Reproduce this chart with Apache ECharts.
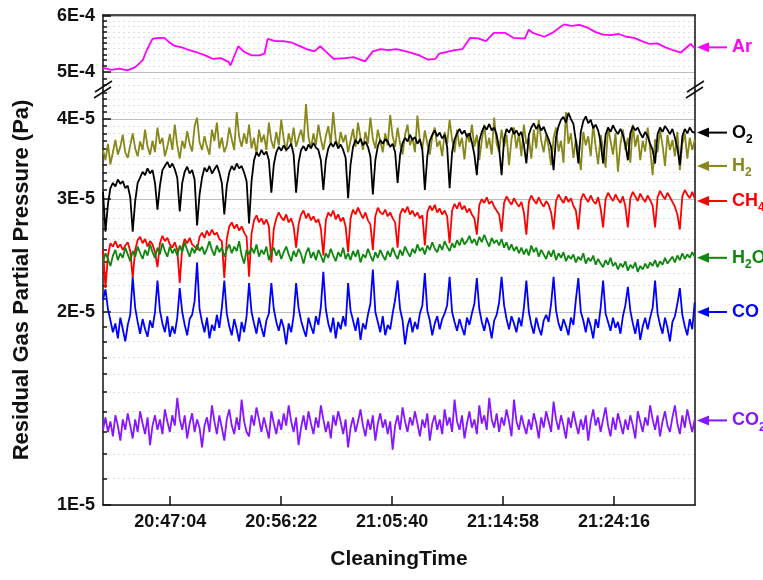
<!DOCTYPE html>
<html>
<head>
<meta charset="utf-8">
<title>Residual gas partial pressure</title>
<script src="https://cdn.jsdelivr.net/npm/echarts@6/dist/echarts.min.js"></script>
<style>
  html, body { margin: 0; padding: 0; background: #fff; }
  #chart { width: 763px; height: 580px; }
</style>
</head>
<body>
<div id="chart"></div>
<script>
// scan window, the RGA samples every sampleStep seconds
var timeStart = '20:41:26';
var timeEnd = '21:31:03';
var sampleStep = 12.45;
var timeTicks = ['20:47:04', '20:56:22', '21:05:40', '21:14:58', '21:24:16'];

// partial pressures, unit 1E-5 Pa, one value per sample
var o2 = [
  3.08, 2.67, 2.95, 3.12, 3.18, 3.14, 3.22, 3.17, 3.20, 3.12,
  3.15, 3.02, 2.67, 2.98, 3.18, 3.24, 3.31, 3.27, 3.35, 3.29,
  3.33, 3.18, 2.89, 3.15, 3.33, 3.38, 3.43, 3.36, 3.41, 3.34,
  3.24, 2.87, 3.18, 3.31, 3.37, 3.29, 3.33, 3.22, 2.73, 3.05,
  3.24, 3.36, 3.31, 3.38, 3.29, 3.34, 3.39, 3.30, 3.18, 2.84,
  3.15, 3.30, 3.38, 3.33, 3.41, 3.35, 3.38, 3.30, 3.20, 2.75,
  3.20, 3.45, 3.55, 3.50, 3.58, 3.52, 3.56, 3.45, 3.07, 3.40,
  3.55, 3.62, 3.57, 3.64, 3.58, 3.61, 3.66, 3.52, 3.07, 3.42,
  3.58, 3.63, 3.57, 3.65, 3.60, 3.67, 3.61, 3.58, 3.45, 3.10,
  3.45, 3.60, 3.67, 3.62, 3.69, 3.60, 3.65, 3.58, 3.48, 3.01,
  3.40, 3.62, 3.71, 3.66, 3.73, 3.64, 3.69, 3.62, 3.50, 3.05,
  3.45, 3.63, 3.71, 3.66, 3.72, 3.69, 3.62, 3.66, 3.55, 3.18,
  3.52, 3.67, 3.74, 3.69, 3.78, 3.71, 3.75, 3.66, 3.72, 3.58,
  3.10, 3.50, 3.70, 3.78, 3.84, 3.76, 3.81, 3.73, 3.78, 3.62,
  3.12, 3.55, 3.72, 3.80, 3.86, 3.79, 3.84, 3.75, 3.80, 3.68,
  3.52, 3.27, 3.70, 3.82, 3.90, 3.85, 3.93, 3.84, 3.88, 3.78,
  3.60, 3.27, 3.72, 3.86, 3.81, 3.88, 3.79, 3.84, 3.77, 3.82,
  3.65, 3.41, 3.78, 3.88, 3.94, 3.86, 3.92, 3.84, 3.89, 3.80,
  3.72, 3.62, 3.33, 3.75, 3.90, 3.99, 4.03, 3.95, 4.09, 4.00,
  3.93, 3.70, 3.41, 3.82, 3.97, 4.04, 3.94, 3.99, 3.87, 3.92,
  3.84, 3.68, 3.41, 3.78, 3.88, 3.82, 3.91, 3.84, 3.79, 3.86,
  3.78, 3.65, 3.45, 3.80, 3.90, 3.84, 3.88, 3.80, 3.74, 3.82,
  3.76, 3.66, 3.58, 3.41, 3.79, 3.88, 3.82, 3.90, 3.85, 3.79,
  3.86, 3.74, 3.60, 3.39, 3.76, 3.86, 3.80, 3.88, 3.82, 3.81
];
var h2 = [
  3.58, 3.45, 3.66, 3.40, 3.55, 3.71, 3.52, 3.62, 3.78, 3.55,
  3.48, 3.64, 3.80, 3.60, 3.50, 3.69, 3.58, 3.85, 3.62, 3.52,
  3.70, 3.55, 3.88, 3.66, 3.74, 3.50, 3.62, 3.79, 3.58, 3.92,
  3.64, 3.47, 3.70, 3.60, 3.83, 3.66, 3.56, 3.90, 4.02, 3.68,
  3.58, 3.76, 3.62, 3.52, 3.85, 3.70, 3.95, 3.60, 3.74, 3.55,
  3.64, 3.88, 3.72, 3.58, 4.10, 3.75, 3.62, 3.80, 3.66, 3.92,
  3.60, 3.74, 3.52, 3.85, 3.68, 3.78, 3.58, 3.95, 3.70, 3.60,
  3.82, 3.64, 3.99, 3.72, 3.56, 3.80, 3.66, 3.88, 3.62, 3.74,
  3.85, 3.68, 4.22, 3.75, 3.60, 3.80, 3.64, 3.92, 3.72, 3.58,
  3.76, 3.90, 3.66, 4.10, 3.72, 3.60, 3.82, 3.68, 3.78, 3.55,
  3.70, 3.86, 3.62, 3.95, 3.74, 3.58, 3.82, 3.66, 4.02, 3.72,
  3.60, 3.85, 3.70, 3.55, 3.80, 3.64, 4.06, 3.76, 3.62, 3.88,
  3.66, 3.52, 3.78, 3.92, 3.64, 3.74, 3.55, 4.05, 3.70, 3.60,
  3.84, 3.66, 3.52, 3.76, 3.88, 3.62, 3.70, 3.50, 3.82, 3.66,
  3.99, 3.72, 3.55, 3.85, 3.62, 3.74, 3.46, 3.80, 3.68, 3.92,
  3.62, 3.78, 3.45, 3.70, 3.92, 3.60, 3.74, 3.52, 4.02, 3.66,
  3.55, 3.85, 3.62, 3.78, 3.39, 3.72, 3.88, 3.60, 3.80, 3.50,
  3.92, 3.66, 3.74, 3.47, 3.85, 3.60, 3.99, 3.70, 3.55, 3.78,
  3.62, 3.39, 3.74, 3.88, 3.56, 3.70, 3.42, 4.10, 3.66, 3.80,
  3.48, 3.72, 3.58, 3.33, 3.82, 3.64, 3.76, 3.50, 3.92, 3.62,
  3.40, 3.78, 3.60, 3.36, 3.88, 3.70, 3.52, 3.80, 3.31, 3.66,
  3.85, 3.58, 3.74, 3.42, 3.92, 3.62, 3.78, 3.45, 3.70, 3.56,
  3.88, 3.60, 3.27, 3.72, 3.55, 3.85, 3.64, 3.38, 3.78, 3.58,
  3.71, 3.50, 3.82, 3.33, 3.66, 3.80, 3.47, 3.74, 3.58, 3.71
];
var ch4 = [
  2.50, 2.18, 2.45, 2.56, 2.53, 2.58, 2.52, 2.55, 2.50, 2.54,
  2.57, 2.49, 2.26, 2.50, 2.59, 2.62, 2.56, 2.60, 2.53, 2.58,
  2.55, 2.48, 2.35, 2.56, 2.63, 2.58, 2.61, 2.55, 2.52, 2.57,
  2.50, 2.22, 2.52, 2.60, 2.56, 2.61, 2.55, 2.53, 2.50, 2.62,
  2.66, 2.61, 2.68, 2.63, 2.69, 2.64, 2.66, 2.60, 2.58, 2.26,
  2.60, 2.72, 2.76, 2.70, 2.74, 2.68, 2.72, 2.66, 2.62, 2.27,
  2.65, 2.78, 2.83, 2.76, 2.80, 2.74, 2.79, 2.72, 2.39, 2.70,
  2.80, 2.86, 2.81, 2.78, 2.84, 2.76, 2.80, 2.72, 2.52, 2.74,
  2.84, 2.88, 2.80, 2.85, 2.78, 2.82, 2.76, 2.79, 2.70, 2.45,
  2.78, 2.86, 2.82, 2.88, 2.79, 2.84, 2.77, 2.81, 2.72, 2.48,
  2.80, 2.89, 2.84, 2.91, 2.85, 2.80, 2.86, 2.78, 2.74, 2.50,
  2.82, 2.91, 2.86, 2.84, 2.89, 2.82, 2.86, 2.80, 2.76, 2.52,
  2.84, 2.90, 2.86, 2.92, 2.84, 2.88, 2.82, 2.86, 2.80, 2.83,
  2.54, 2.86, 2.93, 2.88, 2.94, 2.86, 2.90, 2.84, 2.88, 2.82,
  2.56, 2.88, 2.95, 2.90, 2.97, 2.89, 2.93, 2.86, 2.90, 2.84,
  2.80, 2.64, 2.94, 3.00, 2.96, 3.02, 2.95, 2.98, 2.92, 2.88,
  2.84, 2.67, 2.96, 3.03, 2.98, 2.94, 3.01, 2.96, 2.92, 2.97,
  2.86, 2.64, 2.97, 3.04, 2.99, 2.95, 3.02, 2.96, 2.92, 2.98,
  2.94, 2.86, 2.69, 2.98, 3.05, 3.00, 2.96, 3.03, 2.97, 3.01,
  2.93, 2.88, 2.69, 2.99, 3.06, 3.01, 2.97, 3.04, 2.98, 2.95,
  3.02, 2.90, 2.71, 3.00, 3.07, 3.02, 2.98, 3.05, 3.00, 2.96,
  3.03, 2.92, 2.71, 3.01, 3.08, 3.03, 2.98, 3.06, 3.01, 2.97,
  3.04, 2.99, 2.93, 2.71, 3.02, 3.09, 3.04, 3.00, 3.07, 3.02,
  2.97, 2.92, 2.84, 2.69, 3.03, 3.10, 3.05, 3.01, 3.08, 3.01
];
var h2o = [
  2.39, 2.47, 2.42, 2.36, 2.45, 2.50, 2.41, 2.47, 2.43, 2.52,
  2.46, 2.40, 2.49, 2.44, 2.53, 2.47, 2.42, 2.50, 2.45, 2.55,
  2.48, 2.43, 2.52, 2.46, 2.56, 2.49, 2.44, 2.53, 2.47, 2.51,
  2.45, 2.54, 2.48, 2.57, 2.50, 2.44, 2.52, 2.47, 2.55, 2.49,
  2.53, 2.46, 2.51, 2.58, 2.50, 2.45, 2.54, 2.48, 2.52, 2.44,
  2.50, 2.55, 2.47, 2.53, 2.49, 2.58, 2.45, 2.38, 2.50, 2.46,
  2.52, 2.47, 2.55, 2.44, 2.50, 2.46, 2.53, 2.41, 2.48, 2.52,
  2.45, 2.50, 2.42, 2.48, 2.53, 2.46, 2.40, 2.49, 2.44, 2.51,
  2.46, 2.38, 2.47, 2.52, 2.43, 2.48, 2.41, 2.50, 2.45, 2.39,
  2.47, 2.43, 2.51, 2.45, 2.40, 2.48, 2.44, 2.52, 2.42, 2.47,
  2.41, 2.49, 2.44, 2.50, 2.39, 2.46, 2.43, 2.51, 2.45, 2.40,
  2.48, 2.43, 2.50, 2.45, 2.41, 2.49, 2.44, 2.52, 2.46, 2.42,
  2.50, 2.45, 2.53, 2.48, 2.44, 2.51, 2.47, 2.55, 2.49, 2.52,
  2.46, 2.54, 2.50, 2.57, 2.51, 2.48, 2.55, 2.50, 2.58, 2.53,
  2.49, 2.56, 2.52, 2.59, 2.54, 2.61, 2.55, 2.58, 2.63, 2.56,
  2.60, 2.54, 2.62, 2.57, 2.64, 2.58, 2.53, 2.61, 2.56, 2.59,
  2.54, 2.60, 2.52, 2.57, 2.50, 2.55, 2.49, 2.53, 2.47, 2.52,
  2.46, 2.51, 2.45, 2.54, 2.48, 2.52, 2.44, 2.50, 2.46, 2.42,
  2.49, 2.44, 2.50, 2.41, 2.47, 2.43, 2.48, 2.40, 2.45, 2.42,
  2.46, 2.39, 2.44, 2.41, 2.47, 2.38, 2.43, 2.40, 2.45, 2.37,
  2.42, 2.38, 2.35, 2.41, 2.37, 2.43, 2.36, 2.39, 2.33, 2.38,
  2.35, 2.40, 2.32, 2.37, 2.34, 2.39, 2.31, 2.36, 2.33, 2.38,
  2.34, 2.39, 2.36, 2.41, 2.35, 2.40, 2.37, 2.43, 2.38, 2.41,
  2.44, 2.39, 2.45, 2.41, 2.47, 2.42, 2.46, 2.43, 2.48, 2.44
];
var co = [
  2.09, 2.17, 2.02, 1.94, 1.86, 1.92, 1.82, 1.96, 1.88, 1.80,
  1.91, 1.98, 2.27, 2.03, 1.93, 1.85, 1.95, 1.88, 1.83, 1.94,
  1.89, 2.00, 2.24, 2.01, 1.92, 1.86, 1.97, 1.83, 1.90, 1.85,
  1.96, 2.18, 2.00, 1.91, 1.84, 1.95, 1.98, 2.08, 2.39, 2.02,
  1.93, 1.86, 1.96, 1.82, 1.91, 1.87, 1.98, 1.89, 2.03, 2.24,
  1.99, 1.90, 1.84, 1.95, 1.88, 1.80, 1.93, 1.86, 1.97, 2.22,
  2.00, 1.92, 1.85, 1.96, 1.89, 1.83, 1.94, 1.99, 2.22, 2.02,
  1.93, 1.87, 1.95, 1.89, 1.78, 1.92, 1.86, 1.97, 2.22, 2.03,
  1.94, 1.88, 1.83, 1.96, 1.90, 1.85, 1.97, 1.91, 2.04, 2.31,
  2.02, 1.92, 1.86, 1.96, 1.82, 1.93, 1.88, 1.97, 1.90, 2.22,
  2.01, 1.94, 1.87, 1.96, 1.81, 1.92, 1.88, 1.98, 2.06, 2.33,
  2.00, 1.93, 1.86, 1.97, 1.84, 1.91, 1.88, 1.99, 2.09, 2.24,
  2.02, 1.94, 1.78, 1.90, 1.96, 1.86, 1.93, 1.88, 1.99, 2.05,
  2.30, 2.01, 1.94, 1.84, 1.92, 1.97, 1.88, 1.95, 1.99, 2.05,
  2.27, 2.00, 1.93, 1.87, 1.95, 1.89, 1.84, 1.96, 1.91, 1.99,
  2.06, 2.26, 2.02, 1.93, 1.87, 1.96, 1.91, 1.82, 1.94, 1.98,
  2.07, 2.27, 2.05, 1.95, 1.88, 1.97, 1.92, 1.86, 1.96, 1.90,
  2.03, 2.24, 2.00, 1.91, 1.85, 1.96, 1.89, 1.84, 1.94, 1.98,
  1.93, 2.06, 2.27, 2.01, 1.92, 1.87, 1.95, 1.90, 1.84, 1.96,
  1.91, 2.09, 2.26, 2.00, 1.94, 1.86, 1.96, 1.90, 1.82, 1.95,
  1.89, 2.03, 2.24, 1.99, 1.93, 1.87, 1.96, 1.89, 1.93, 1.85,
  1.97, 2.05, 2.19, 2.01, 1.92, 1.85, 1.95, 1.81, 1.90, 1.96,
  1.88, 1.96, 2.03, 2.24, 1.99, 1.91, 1.85, 1.96, 1.89, 1.80,
  1.93, 1.97, 2.06, 2.18, 1.98, 1.90, 1.84, 1.95, 1.88, 2.07
];
var co2 = [
  1.31, 1.37, 1.30, 1.35, 1.28, 1.38, 1.33, 1.26, 1.36, 1.31,
  1.39, 1.33, 1.27, 1.36, 1.30, 1.40, 1.34, 1.29, 1.37, 1.24,
  1.33, 1.38, 1.31, 1.36, 1.29, 1.41, 1.35, 1.30, 1.38, 1.33,
  1.47, 1.36, 1.31, 1.38, 1.27, 1.34, 1.39, 1.30, 1.36, 1.32,
  1.23, 1.33, 1.37, 1.30, 1.43, 1.35, 1.29, 1.38, 1.32, 1.26,
  1.36, 1.41, 1.33, 1.29, 1.37, 1.31, 1.46, 1.35, 1.30, 1.28,
  1.38, 1.33, 1.42, 1.36, 1.30, 1.37, 1.32, 1.27, 1.40, 1.34,
  1.29, 1.36, 1.31, 1.39, 1.33, 1.43, 1.35, 1.30, 1.37, 1.24,
  1.32, 1.38, 1.31, 1.40, 1.34, 1.29, 1.37, 1.32, 1.43, 1.36,
  1.30, 1.35, 1.27, 1.38, 1.33, 1.40, 1.35, 1.29, 1.36, 1.23,
  1.32, 1.37, 1.30, 1.35, 1.41, 1.33, 1.28, 1.36, 1.31, 1.38,
  1.26, 1.34, 1.39, 1.32, 1.36, 1.29, 1.35, 1.22, 1.33, 1.38,
  1.31, 1.42, 1.35, 1.30, 1.37, 1.33, 1.40, 1.34, 1.28, 1.36,
  1.32, 1.39, 1.26, 1.34, 1.38, 1.31, 1.36, 1.29, 1.41, 1.33,
  1.37, 1.30, 1.46, 1.35, 1.31, 1.38, 1.27, 1.34, 1.40, 1.32,
  1.36, 1.29, 1.43, 1.34, 1.38, 1.31, 1.47, 1.36, 1.32, 1.39,
  1.30, 1.37, 1.33, 1.41, 1.35, 1.28, 1.46, 1.35, 1.31, 1.38,
  1.33, 1.29, 1.36, 1.31, 1.39, 1.34, 1.27, 1.37, 1.32, 1.40,
  1.35, 1.30, 1.45, 1.36, 1.31, 1.38, 1.33, 1.27, 1.37, 1.32,
  1.40, 1.34, 1.29, 1.36, 1.31, 1.38, 1.26, 1.35, 1.41, 1.33,
  1.37, 1.30, 1.36, 1.42, 1.33, 1.28, 1.37, 1.31, 1.39, 1.34,
  1.29, 1.36, 1.31, 1.38, 1.33, 1.27, 1.40, 1.35, 1.30, 1.37,
  1.33, 1.43, 1.36, 1.31, 1.38, 1.28, 1.35, 1.40, 1.33, 1.30,
  1.37, 1.43, 1.34, 1.29, 1.38, 1.32, 1.41, 1.35, 1.30, 1.36
];

// Ar, unit 1E-4 Pa, read at its own points (seconds after timeStart)
var arOffset = [
  0, 43, 82, 122, 161, 200, 220, 249, 278, 308,
  327, 357, 396, 435, 475, 514, 553, 592, 631, 641,
  680, 710, 749, 788, 812, 828, 867, 906, 945, 984,
  1024, 1063, 1092, 1122, 1161, 1220, 1259, 1318, 1357, 1396,
  1435, 1475, 1534, 1592, 1632, 1671, 1690, 1730, 1769, 1808,
  1847, 1886, 1926, 1965, 2024, 2063, 2102, 2122, 2141, 2161,
  2220, 2259, 2318, 2357, 2396, 2436, 2475, 2514, 2553, 2592,
  2632, 2671, 2710, 2749, 2788, 2828, 2867, 2906, 2955, 2977
];
var arValue = [
  5.07, 5.04, 5.06, 5.03, 5.08, 5.20, 5.37, 5.57, 5.59, 5.59,
  5.53, 5.45, 5.42, 5.37, 5.33, 5.28, 5.22, 5.235, 5.17, 5.11,
  5.44, 5.34, 5.28, 5.28, 5.31, 5.57, 5.53, 5.53, 5.51, 5.45,
  5.39, 5.35, 5.44, 5.34, 5.22, 5.235, 5.25, 5.18, 5.35, 5.39,
  5.37, 5.39, 5.34, 5.28, 5.21, 5.22, 5.31, 5.34, 5.37, 5.39,
  5.59, 5.58, 5.53, 5.68, 5.68, 5.59, 5.58, 5.58, 5.74, 5.68,
  5.61, 5.68, 5.84, 5.81, 5.83, 5.78, 5.70, 5.65, 5.64, 5.66,
  5.61, 5.59, 5.53, 5.48, 5.49, 5.42, 5.37, 5.33, 5.48, 5.40
];

// axis extents and ticks (lower panel 1E-5 Pa, upper panel 1E-4 Pa)
var lowRange = [1, 4.44];
var lowMajor = [1, 2, 3, 4];
var lowMinor = [1.1, 1.2, 1.3, 1.4, 1.5, 1.6, 1.7, 1.8, 1.9,
                2.1, 2.2, 2.3, 2.4, 2.5, 2.6, 2.7, 2.8, 2.9,
                3.1, 3.2, 3.3, 3.4, 3.5, 3.6, 3.7, 3.8, 3.9,
                4.1, 4.2, 4.3, 4.4];
var arRange = [4.72, 6.02];
var arMajor = [5, 6];
var arMinor = [4.8, 4.9, 5.1, 5.2, 5.3, 5.4, 5.5, 5.6, 5.7, 5.8, 5.9];

// right hand tags: text and the level the arrow points at
var tagText = ['{m|Ar}', '{m|O}{s|2}', '{m|H}{s|2}', '{m|CH}{s|4}', '{m|H}{s|2}{m|O}', '{m|CO}', '{m|CO}{s|2}'];
var tagLevel = [5.42, 3.81, 3.38, 2.98, 2.43, 2.00, 1.355];

var colors = {
  ar: '#ff00ff', o2: '#000000', h2: '#87871a', ch4: '#ff0000',
  h2o: '#0f870f', co: '#0000ff', co2: '#8516ff'
};
var tagColor = [colors.ar, colors.o2, colors.h2, colors.ch4, colors.h2o, colors.co, colors.co2];

var black = '#111111';
var font = 'Liberation Sans';

function toSec(s) {
  var p = s.split(':');
  return (+p[0]) * 3600 + (+p[1]) * 60 + (+p[2]);
}

function toClock(v) {
  v = Math.round(v);
  var h = Math.floor(v / 3600), m = Math.floor(v % 3600 / 60), s = v % 60;
  return h + ':' + (m < 10 ? '0' + m : m) + ':' + (s < 10 ? '0' + s : s);
}

var t0 = toSec(timeStart), t1 = toSec(timeEnd);

var sampleTimes = [];
for (var i = 0; i < o2.length; i++) {
  sampleTimes.push(t0 + i * sampleStep);
}

function pairs(values) {
  return values.map(function (v, i) { return [sampleTimes[i], v]; });
}

var arData = arOffset.map(function (o, i) { return [t0 + o, arValue[i]]; });

function lineSeries(name, color, data, xi, yi) {
  return {
    name: name, type: 'line', xAxisIndex: xi, yAxisIndex: yi,
    data: data, symbol: 'none', showSymbol: false,
    lineStyle: {color: color, width: 1.8}, itemStyle: {color: color},
    animation: false
  };
}

var hidden = {show: false};

// log axis that carries the data
function dataAxis(grid, range) {
  return {
    type: 'log', logBase: 10, gridIndex: grid, position: 'left', min: range[0], max: range[1],
    axisLine: {show: true, onZero: false, lineStyle: {color: black, width: 1.5}},
    axisTick: hidden, axisLabel: hidden, splitLine: hidden, minorTick: hidden
  };
}

// same span in decades, only used to place ticks and grid lines
function guideAxis(grid, range, values, major, unit) {
  var at = values.map(function (v) { return Math.log10(v); });
  return {
    type: 'value', gridIndex: grid, position: 'left',
    min: Math.log10(range[0]), max: Math.log10(range[1]),
    axisLine: {show: false, onZero: false},
    axisTick: {show: true, inside: true, length: major ? 8 : 4, customValues: at,
      lineStyle: {color: black, width: 1.5}},
    axisLabel: major ? {
      show: true, customValues: at, margin: 8,
      fontFamily: font, fontWeight: 'bold', fontSize: 18, color: black,
      formatter: function (v) { return Math.round(Math.pow(10, v)) + unit; }
    } : hidden,
    splitLine: {show: true, lineStyle: major ?
      {color: '#bdbdbd', width: 1} :
      {color: '#dedede', width: 1, type: [2, 3]}}
  };
}

function frameAxis(grid) {
  return {
    type: 'value', gridIndex: grid, position: 'right', min: 0, max: 1,
    axisLine: {show: true, onZero: false, lineStyle: {color: black, width: 1.5}},
    axisTick: hidden, axisLabel: hidden, splitLine: hidden
  };
}

var chart = echarts.init(document.getElementById('chart'));

var option = {
  animation: false,
  backgroundColor: '#ffffff',
  textStyle: {fontFamily: font},
  grid: [
    {left: 103, right: 68, top: 15, height: 75, outerBoundsMode: 'none'},
    {left: 103, right: 68, top: 90, bottom: 75, outerBoundsMode: 'none'}
  ],
  xAxis: [
    {
      type: 'value', gridIndex: 0, position: 'top', min: t0, max: t1,
      axisLine: {show: true, onZero: false, lineStyle: {color: black, width: 1.5}},
      axisTick: hidden, axisLabel: hidden, splitLine: hidden
    },
    {
      type: 'value', gridIndex: 1, position: 'bottom', min: t0, max: t1,
      axisLine: {show: true, onZero: false, lineStyle: {color: black, width: 1.5}},
      axisTick: {show: true, inside: true, length: 9, customValues: timeTicks.map(toSec),
        lineStyle: {color: black, width: 1.5}},
      axisLabel: {
        show: true, customValues: timeTicks.map(toSec), margin: 8,
        fontFamily: font, fontWeight: 'bold', fontSize: 18, color: black,
        formatter: function (v) { return toClock(v); }
      },
      splitLine: hidden,
      name: 'CleaningTime', nameLocation: 'middle', nameGap: 44,
      nameTextStyle: {fontFamily: font, fontWeight: 'bold', fontSize: 21, color: black}
    }
  ],
  yAxis: [
    dataAxis(0, arRange),
    guideAxis(0, arRange, arMajor, true, 'E-4'),
    guideAxis(0, arRange, arMinor, false, ''),
    frameAxis(0),
    dataAxis(1, lowRange),
    guideAxis(1, lowRange, lowMajor, true, 'E-5'),
    guideAxis(1, lowRange, lowMinor, false, ''),
    frameAxis(1)
  ],
  series: [
    lineSeries('CO2', colors.co2, pairs(co2), 1, 4),
    lineSeries('CO', colors.co, pairs(co), 1, 4),
    lineSeries('CH4', colors.ch4, pairs(ch4), 1, 4),
    lineSeries('H2O', colors.h2o, pairs(h2o), 1, 4),
    lineSeries('H2', colors.h2, pairs(h2), 1, 4),
    lineSeries('O2', colors.o2, pairs(o2), 1, 4),
    lineSeries('Ar', colors.ar, arData, 0, 0)
  ]
};

chart.setOption(option);

// tags, break marks and the vertical title, placed from the axes
var xl = chart.convertToPixel({xAxisIndex: 1}, t0);
var xr = chart.convertToPixel({xAxisIndex: 1}, t1);
var yBreak = chart.convertToPixel({yAxisIndex: 0}, arRange[0]);
var yBottom = chart.convertToPixel({yAxisIndex: 4}, lowRange[0]);
var yTop = chart.convertToPixel({yAxisIndex: 0}, arRange[1]);

var graphic = [];

tagText.forEach(function (txt, k) {
  var y = chart.convertToPixel({yAxisIndex: k === 0 ? 0 : 4}, tagLevel[k]);
  var c = tagColor[k];
  graphic.push({
    type: 'line', silent: true,
    shape: {x1: xr + 10, y1: y, x2: xr + 32, y2: y},
    style: {stroke: c, lineWidth: 2}
  });
  graphic.push({
    type: 'polygon', silent: true,
    shape: {points: [[xr + 2, y], [xr + 14, y - 5], [xr + 14, y + 5]]},
    style: {fill: c}
  });
  graphic.push({
    type: 'text', silent: true, x: xr + 37, y: y,
    style: {
      text: txt, fill: c, align: 'left', verticalAlign: 'middle',
      textAlign: 'left', textVerticalAlign: 'middle',
      rich: {
        m: {fontFamily: font, fontWeight: 'bold', fontSize: 18, fill: c},
        s: {fontFamily: font, fontWeight: 'bold', fontSize: 12, fill: c, padding: [14, 0, 0, 0]}
      }
    }
  });
});

[xl, xr].forEach(function (x) {
  graphic.push({
    type: 'line', silent: true,
    shape: {x1: x - 9, y1: yBreak + 8, x2: x + 8, y2: yBreak - 3},
    style: {stroke: black, lineWidth: 1.5}
  });
  graphic.push({
    type: 'line', silent: true,
    shape: {x1: x - 8, y1: yBreak + 2, x2: x + 9, y2: yBreak - 9},
    style: {stroke: black, lineWidth: 1.5}
  });
});

graphic.push({
  type: 'text', silent: true, x: 22, y: (yTop + yBottom) / 2 + 20, rotation: Math.PI / 2,
  style: {
    text: 'Residual Gas Partial Pressure (Pa)', fill: black,
    font: 'bold 22px ' + font,
    align: 'center', verticalAlign: 'middle', textAlign: 'center', textVerticalAlign: 'middle'
  }
});

chart.setOption({graphic: graphic});
</script>
</body>
</html>
